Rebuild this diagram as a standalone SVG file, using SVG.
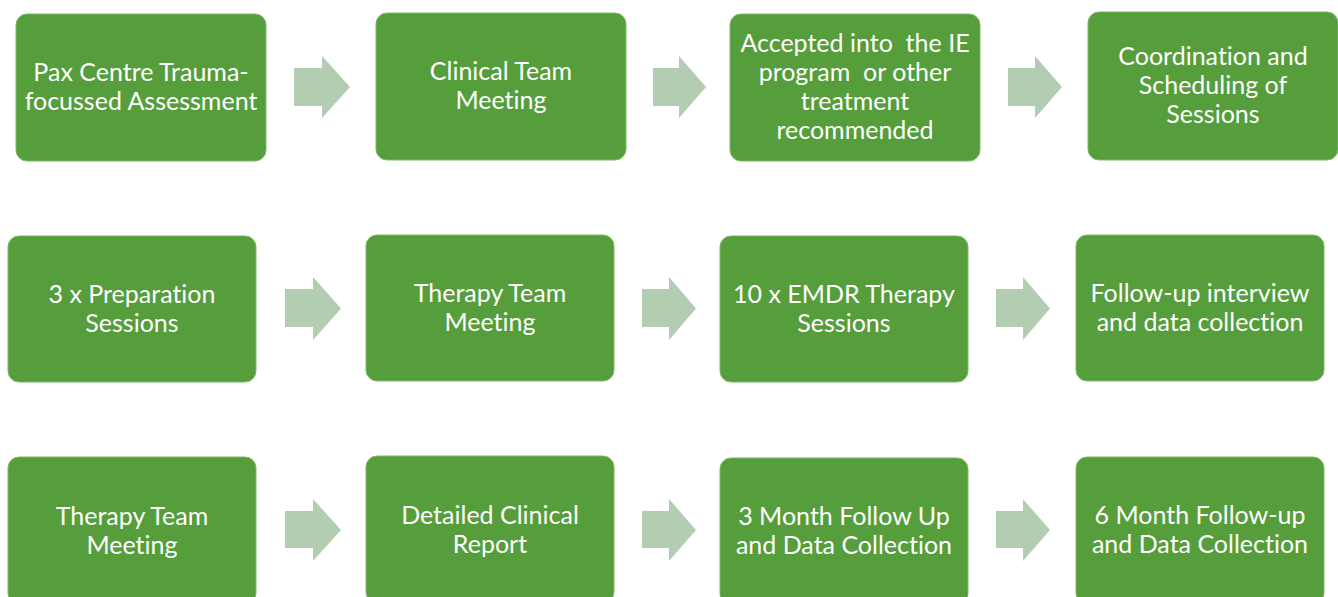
<svg xmlns="http://www.w3.org/2000/svg" width="1338" height="597" viewBox="0 0 1338 597">
  <style>
    .box { fill: #559E3B; stroke: #7FB86A; stroke-width: 1; }
    .arrow { fill: #B3CDB2; }
    .label { fill: #FFFFFF; font-family: "Lato", "Open Sans", sans-serif; font-size: 25px; text-anchor: middle; font-variant-ligatures: none; }
  </style>
  <rect width="1338" height="597" fill="#FFFFFF"/>

  <!-- Row 1 -->
  <g id="node-assessment">
    <rect class="box" x="16" y="14" width="250" height="147" rx="11"/>
    <text class="label"><tspan x="141" y="81">Pax Centre Trauma-</tspan><tspan x="141" y="110">focussed Assessment</tspan></text>
  </g>
  <g id="node-clinical-meeting">
    <rect class="box" x="376" y="13" width="250" height="147" rx="11"/>
    <text class="label"><tspan x="501" y="80">Clinical Team</tspan><tspan x="501" y="109">Meeting</tspan></text>
  </g>
  <g id="node-accepted">
    <rect class="box" x="730" y="14" width="250" height="147" rx="11"/>
    <text class="label" xml:space="preserve"><tspan x="855" y="52">Accepted into  the IE</tspan><tspan x="855" y="81">program  or other</tspan><tspan x="855" y="110">treatment</tspan><tspan x="855" y="139">recommended</tspan></text>
  </g>
  <g id="node-coordination">
    <rect class="box" x="1088" y="12" width="250" height="148" rx="11"/>
    <text class="label"><tspan x="1213" y="65">Coordination and</tspan><tspan x="1213" y="94">Scheduling of</tspan><tspan x="1213" y="123">Sessions</tspan></text>
  </g>

  <!-- Row 2 -->
  <g id="node-preparation">
    <rect class="box" x="8" y="236" width="248" height="146" rx="11"/>
    <text class="label"><tspan x="132" y="303">3 x Preparation</tspan><tspan x="132" y="332">Sessions</tspan></text>
  </g>
  <g id="node-therapy-meeting-1">
    <rect class="box" x="366" y="235" width="248" height="146" rx="11"/>
    <text class="label"><tspan x="490" y="302">Therapy Team</tspan><tspan x="490" y="331">Meeting</tspan></text>
  </g>
  <g id="node-emdr">
    <rect class="box" x="720" y="236" width="248" height="146" rx="11"/>
    <text class="label"><tspan x="844" y="303">10 x EMDR Therapy</tspan><tspan x="844" y="332">Sessions</tspan></text>
  </g>
  <g id="node-follow-up-interview">
    <rect class="box" x="1076" y="235" width="248" height="146" rx="11"/>
    <text class="label"><tspan x="1200" y="302">Follow-up interview</tspan><tspan x="1200" y="331">and data collection</tspan></text>
  </g>

  <!-- Row 3 -->
  <g id="node-therapy-meeting-2">
    <rect class="box" x="8" y="457" width="248" height="147" rx="11"/>
    <text class="label"><tspan x="132" y="525">Therapy Team</tspan><tspan x="132" y="554">Meeting</tspan></text>
  </g>
  <g id="node-report">
    <rect class="box" x="366" y="456" width="248" height="147" rx="11"/>
    <text class="label"><tspan x="490" y="524">Detailed Clinical</tspan><tspan x="490" y="553">Report</tspan></text>
  </g>
  <g id="node-3-month">
    <rect class="box" x="720" y="458" width="248" height="147" rx="11"/>
    <text class="label"><tspan x="844" y="525">3 Month Follow Up</tspan><tspan x="844" y="554">and Data Collection</tspan></text>
  </g>
  <g id="node-6-month">
    <rect class="box" x="1076" y="457" width="248" height="147" rx="11"/>
    <text class="label"><tspan x="1200" y="524">6 Month Follow-up</tspan><tspan x="1200" y="553">and Data Collection</tspan></text>
  </g>

  <!-- Block arrows between steps -->
  <g id="connectors">
    <polygon class="arrow" points="294,68 322,68 322,56 350,87 322,118 322,106 294,106"/>
    <polygon class="arrow" points="653,68 679,68 679,56 706,87 679,118 679,106 653,106"/>
    <polygon class="arrow" points="1008,68 1035,68 1035,56 1062,87 1035,118 1035,106 1008,106"/>

    <polygon class="arrow" points="285,289 313,289 313,277 341,308.5 313,340 313,327 285,327"/>
    <polygon class="arrow" points="642,289 669,289 669,277 696,308.5 669,340 669,327 642,327"/>
    <polygon class="arrow" points="996,289 1023,289 1023,277 1050,308.5 1023,340 1023,327 996,327"/>

    <polygon class="arrow" points="285,511 313,511 313,499 341,530 313,561 313,548 285,548"/>
    <polygon class="arrow" points="642,511 669,511 669,499 696,530 669,561 669,548 642,548"/>
    <polygon class="arrow" points="996,511 1023,511 1023,499 1050,530 1023,561 1023,548 996,548"/>
  </g>
</svg>
